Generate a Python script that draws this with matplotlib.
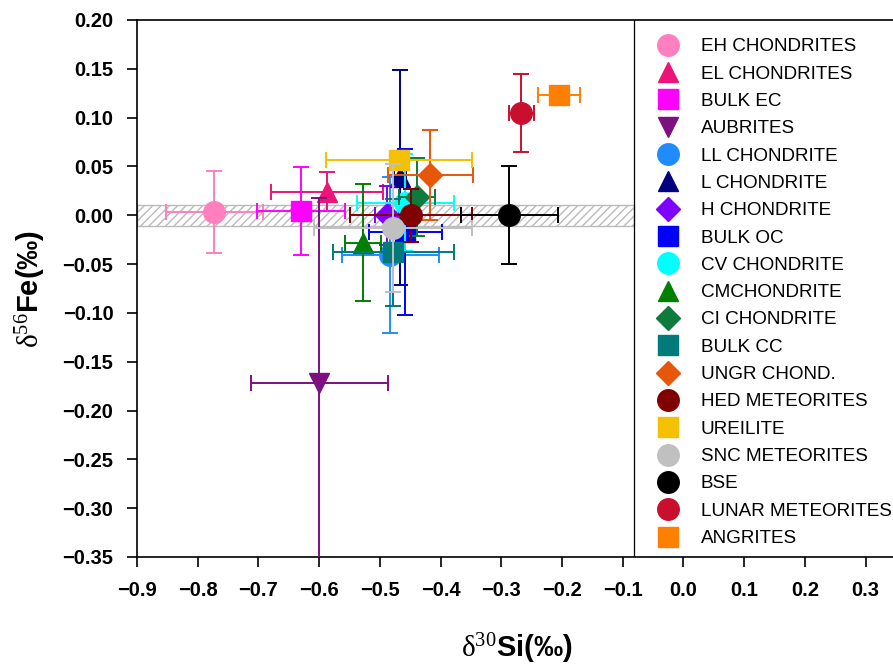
import matplotlib
matplotlib.use('Agg')
import matplotlib.pyplot as plt
from matplotlib.lines import Line2D
from matplotlib.patches import Rectangle
from matplotlib.ticker import FuncFormatter

plt.rcParams['font.family'] = ['Liberation Sans', 'DejaVu Sans']
plt.rcParams['mathtext.fontset'] = 'custom'
plt.rcParams['mathtext.rm'] = 'Liberation Serif'
plt.rcParams['mathtext.it'] = 'Liberation Serif:italic'
plt.rcParams['mathtext.bf'] = 'Liberation Sans:bold'
plt.rcParams['hatch.color'] = '#BBBBBB'

# Data
names = ['EH CHONDRITES', 'EL CHONDRITES', 'BULK EC', 'AUBRITES', 'LL CHONDRITE',
         'L CHONDRITE', 'H CHONDRITE', 'BULK OC', 'CV CHONDRITE', 'CMCHONDRITE',
         'CI CHONDRITE', 'BULK CC', 'UNGR CHOND.', 'HED METEORITES', 'UREILITE',
         'SNC METEORITES', 'BSE', 'LUNAR METEORITES', 'ANGRITES']
si30 = [-0.773, -0.587, -0.630, -0.600, -0.483, -0.467, -0.488, -0.458, -0.458, -0.528,
        -0.439, -0.478, -0.417, -0.449, -0.468, -0.478, -0.287, -0.267, -0.205]
fe56 = [0.003, 0.024, 0.004, -0.172, -0.041, 0.039, 0.000, -0.017, 0.013, -0.028,
        0.019, -0.038, 0.041, 0.000, 0.057, -0.013, 0.000, 0.105, 0.123]
si30_err = [0.080, 0.092, 0.072, 0.113, 0.080, 0.010, 0.020, 0.060, 0.080, 0.030,
            0.030, 0.100, 0.070, 0.100, 0.120, 0.130, 0.080, 0.020, 0.034]
fe56_err = [0.042, 0.020, 0.045, 0.190, 0.080, 0.110, 0.030, 0.085, 0.050, 0.060,
            0.040, 0.055, 0.046, 0.027, 0.000, 0.066, 0.050, 0.040, 0.005]
colors = ['#FF7FBF', '#EC1478', '#FF00FF', '#7D1080', '#1E8CFF', '#000080', '#8000FF',
          '#0000FF', '#00FFFF', '#008000', '#0E7A3C', '#007A7A', '#E8560A', '#800000',
          '#F5C000', '#C0C0C0', '#000000', '#C8102E', '#FF8000']
markers = ['o', '^', 's', 'v', 'o', '^', 'D', 's', 'o', '^', 'D', 's', 'D', 'o', 's',
           'o', 'o', 'o', 's']

msize = {'o': 15.5, '^': 14, 'v': 14, 's': 14, 'D': 12}

fig = plt.figure(figsize=(8.93, 6.66), dpi=100)
ax = fig.add_axes([137 / 893, 109 / 666, 759 / 893, 537 / 666])

legend_x = -0.081

# BSE band
ax.add_patch(Rectangle((-0.9, -0.011), legend_x + 0.9, 0.022, facecolor='white',
                       edgecolor='#BBBBBB', hatch='////', linewidth=1.0, zorder=1))

handles = []
for i in range(len(names)):
    ax.errorbar(si30[i], fe56[i], xerr=si30_err[i], yerr=fe56_err[i] if fe56_err[i] > 0 else None,
                fmt=markers[i], color=colors[i], ms=msize[markers[i]], mec=colors[i],
                elinewidth=1.4, capsize=5.5, capthick=1.4, zorder=3 + i)
    handles.append(Line2D([], [], linestyle='none', marker=markers[i], color=colors[i],
                          ms=msize[markers[i]]))

ax.axvline(legend_x, color='black', linewidth=0.9, zorder=30)

ax.set_xlim(-0.9, 0.35)
ax.set_ylim(-0.35, 0.20)
ax.set_xticks([-0.9 + 0.1 * k for k in range(13)])
ax.set_yticks([-0.35 + 0.05 * k for k in range(12)])
ax.xaxis.set_major_formatter(FuncFormatter(lambda v, p: f'{v:.1f}'.replace('-', '\u2212')))
ax.yaxis.set_major_formatter(FuncFormatter(lambda v, p: f'{v:.2f}'.replace('-', '\u2212')))
ax.tick_params(direction='out', length=7, width=1.2, labelsize=14.5)
ax.tick_params(axis='x', pad=10)
ax.tick_params(axis='y', pad=10)
for lab in ax.get_xticklabels() + ax.get_yticklabels():
    lab.set_fontweight('bold')
for s in ax.spines.values():
    s.set_linewidth(1.2)

ax.set_xlabel(r'$\mathrm{\delta}^{\mathrm{30}}\mathbf{Si(‰)}$', fontsize=21)
ax.set_ylabel(r'$\mathrm{\delta}^{\mathrm{56}}\mathbf{Fe(‰)}$', fontsize=21)
ax.xaxis.set_label_coords(0.5, -0.138)
ax.yaxis.set_label_coords(-0.117, 0.5)

ax.legend(handles, names, loc='upper left', bbox_to_anchor=(0.687, 0.9665),
          frameon=False, fontsize=13.6, handlelength=1.0, handletextpad=1.25,
          borderpad=0, borderaxespad=0, labelspacing=0.535)

fig.savefig('out.png', dpi=100)
